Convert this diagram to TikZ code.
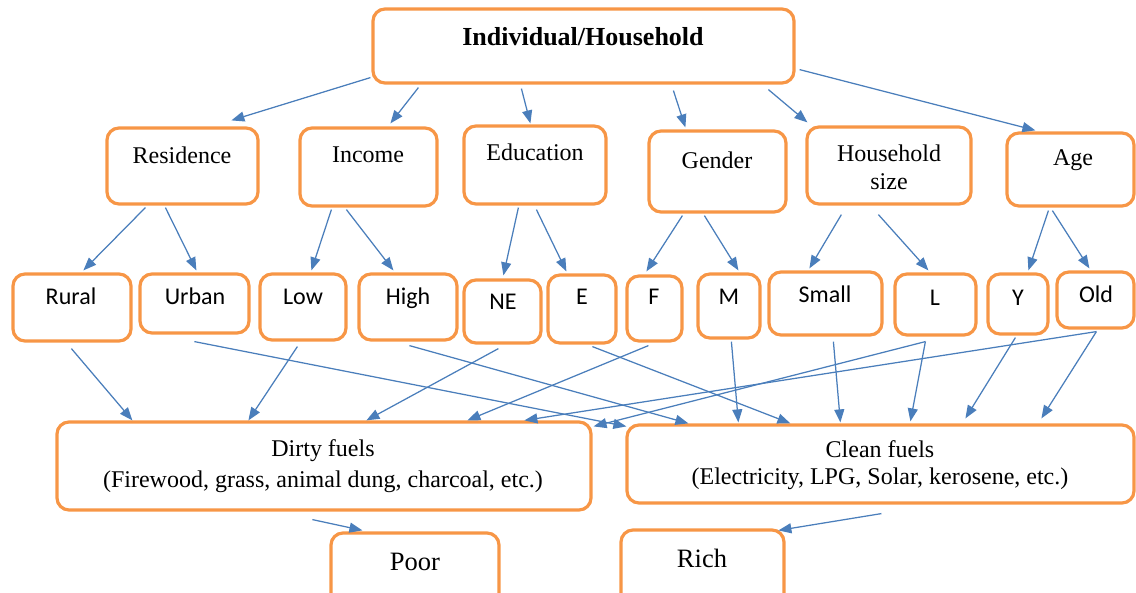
\documentclass[tikz,border=0pt]{standalone}
\usepackage{fontspec}
\setmainfont{Liberation Serif}
\newfontfamily\calfont{Carlito}
\usetikzlibrary{arrows.meta}
\definecolor{boxor}{RGB}{247,150,70}
\definecolor{arrbl}{RGB}{74,126,187}
\newcommand\mkbox[5]{\node[fbox, minimum width={(#4)-(#2)}, minimum height={(#5)-(#3)}] (#1) at ({((#2)+(#4))/2},{((#3)+(#5))/2}) {};}
\begin{document}
\begin{tikzpicture}[x=1pt,y=-1pt,
  fbox/.style={draw=boxor, line width=3.2pt, rounded corners=12pt, inner sep=0pt, fill=white},
  arr/.style={draw=arrbl, line width=1.25pt, -{Triangle[length=13pt,width=10pt]}},
  tms/.style={font=\fontsize{24}{28}\selectfont, align=center, inner sep=0pt},
  cal/.style={font=\calfont\fontsize{24}{28}\selectfont, inner sep=0pt, text height=0.65em, text depth=0.15em},
  big/.style={font=\fontsize{26.5}{30}\selectfont, inner sep=0pt}]
\useasboundingbox (0,0) rectangle (1136,593);
\clip (0,0) rectangle (1136,593);
% boxes
\mkbox{top}{373}{9}{794}{83}
\mkbox{res}{107}{128}{258}{204}
\mkbox{inc}{300}{128}{437}{206}
\mkbox{edu}{464}{126}{606}{204}
\mkbox{gen}{649}{131}{786}{212}
\mkbox{hhs}{807}{127}{971}{204}
\mkbox{age}{1007}{133}{1134}{206}
\mkbox{rural}{13}{274}{131}{341}
\mkbox{urban}{140}{274}{249}{333}
\mkbox{low}{260}{274}{346}{340}
\mkbox{high}{359}{274}{457}{340}
\mkbox{ne}{464}{280}{541}{343}
\mkbox{e}{548}{275}{616}{343}
\mkbox{f}{627}{276}{682}{341}
\mkbox{m}{698}{274}{760}{338}
\mkbox{small}{769}{272}{882}{335}
\mkbox{l}{895}{274}{976}{335}
\mkbox{y}{988}{274}{1048}{334}
\mkbox{old}{1057}{272}{1134}{328}
\mkbox{dirty}{57}{422}{591}{510}
\mkbox{clean}{627}{425}{1134}{503}
\mkbox{poor}{331}{533}{499}{610}
\mkbox{rich}{621}{530}{784}{610}
% texts
\node[big, font=\bfseries\fontsize{26}{30}\selectfont] (topT) at (583,37) {Individual/Household};
\node[tms] (resT) at (182,155) {Residence};
\node[tms] (incT) at (368,155) {Income};
\node[tms] (eduT) at (535,152) {Education};
\node[tms] (genT) at (717,160) {Gender};
\node[tms, font=\fontsize{24}{28}\selectfont] (hhsT) at (889,167) {Household\\size};
\node[tms] (ageT) at (1073,160) {Age};
\node[cal] (ruralT) at (71,302) {Rural};
\node[cal] (urbanT) at (195,302) {Urban};
\node[cal] (lowT) at (303,302) {Low};
\node[cal] (highT) at (408,302) {High};
\node[cal] (neT) at (503,307) {NE};
\node[cal] (eT) at (582,302) {E};
\node[cal] (fT) at (654,302) {F};
\node[cal] (mT) at (729,302) {M};
\node[cal] (smallT) at (825,300) {Small};
\node[cal] (lT) at (935,303) {L};
\node[cal] (yT) at (1018,303) {Y};
\node[cal] (oldT) at (1096,300) {Old};
\node[tms, font=\fontsize{24}{31}\selectfont] (dirtyT) at (323,466) {Dirty fuels\\(Firewood, grass, animal dung, charcoal, etc.)};
\node[tms, font=\fontsize{24}{27}\selectfont] (cleanT) at (880,465) {Clean fuels\\(Electricity, LPG, Solar, kerosene, etc.)};
\node[big] (poorT) at (415,562) {Poor};
\node[big] (richT) at (702,558) {Rich};
% arrows level 1
\draw[arr] ([shift={(-1,-7)}]top.south west) -- ([shift={(126,-6)}]res.north west);
\draw[arr] ([shift={(47,3)}]top.south west) -- ([shift={(92,-3)}]inc.north west);
\draw[arr] ([shift={(150,4)}]top.south west) -- ([shift={(68,-1)}]edu.north west);
\draw[arr] ([shift={(302,6)}]top.south west) -- ([shift={(38,-2)}]gen.north west);
\draw[arr] ([shift={(397,5)}]top.south west) -- ([shift={(2,-3)}]hhs.north west);
\draw[arr] ([shift={(4,-15)}]top.south east) -- ([shift={(30,-1)}]age.north west);
% arrows level 2
\draw[arr] ([shift={(40,2)}]res.south west) -- ([shift={(72,-2)}]rural.north west);
\draw[arr] ([shift={(60,2)}]res.south west) -- ([shift={(58,-2)}]urban.north west);
\draw[arr] ([shift={(33,2)}]inc.south west) -- ([shift={(53,-2)}]low.north west);
\draw[arr] ([shift={(48,2)}]inc.south west) -- ([shift={(36,-2)}]high.north west);
\draw[arr] ([shift={(56,2)}]edu.south west) -- ([shift={(41,-3)}]ne.north west);
\draw[arr] ([shift={(74,4)}]edu.south west) -- ([shift={(20,-2)}]e.north west);
\draw[arr] ([shift={(35,2)}]gen.south west) -- ([shift={(21,-3)}]f.north west);
\draw[arr] ([shift={(57,2)}]gen.south west) -- ([shift={(42,-2)}]m.north west);
\draw[arr] ([shift={(36,9)}]hhs.south west) -- ([shift={(42,-2)}]small.north west);
\draw[arr] ([shift={(73,9)}]hhs.south west) -- ([shift={(35,-2)}]l.north west);
\draw[arr] ([shift={(43,3)}]age.south west) -- ([shift={(42,-2)}]y.north west);
\draw[arr] ([shift={(47,3)}]age.south west) -- ([shift={(34,-2)}]old.north west);
% arrows level 3
\draw[arr] ([shift={(60,6)}]rural.south west) -- ([shift={(77,0)}]dirty.north west);
\draw[arr] ([shift={(56,7)}]urban.south west) -- ([shift={(1,3)}]clean.north west);
\draw[arr] ([shift={(39,5)}]low.south west) -- ([shift={(193,0)}]dirty.north west);
\draw[arr] ([shift={(52,4)}]high.south west) -- ([shift={(63,0)}]clean.north west);
\draw[arr] ([shift={(36,4)}]ne.south west) -- ([shift={(311,0)}]dirty.north west);
\draw[arr] ([shift={(46,2)}]e.south west) -- ([shift={(165,0)}]clean.north west);
\draw[arr] ([shift={(23,3)}]f.south west) -- ([shift={(412,0)}]dirty.north west);
\draw[arr] ([shift={(35,2)}]m.south west) -- ([shift={(113,-1)}]clean.north west);
\draw[arr] ([shift={(66,5)}]small.south west) -- ([shift={(215,-1)}]clean.north west);
\draw[arr] ([shift={(32,5)}]l.south west) -- ([shift={(1,6)}]dirty.north east);
\draw[arr] ([shift={(32,5)}]l.south west) -- ([shift={(285,-2)}]clean.north west);
\draw[arr] ([shift={(29,2)}]y.south west) -- ([shift={(340,-5)}]clean.north west);
\draw[arr] ([shift={(41,2)}]old.south west) -- ([shift={(469,0)}]dirty.north west);
\draw[arr] ([shift={(41,2)}]old.south west) -- ([shift={(416,-5)}]clean.north west);
% arrows level 4
\draw[arr] ([shift={(257,8)}]dirty.south west) -- ([shift={(33,-1)}]poor.north west);
\draw[arr] ([shift={(256,9)}]clean.south west) -- ([shift={(159,2)}]rich.north west);
\end{tikzpicture}
\end{document}
